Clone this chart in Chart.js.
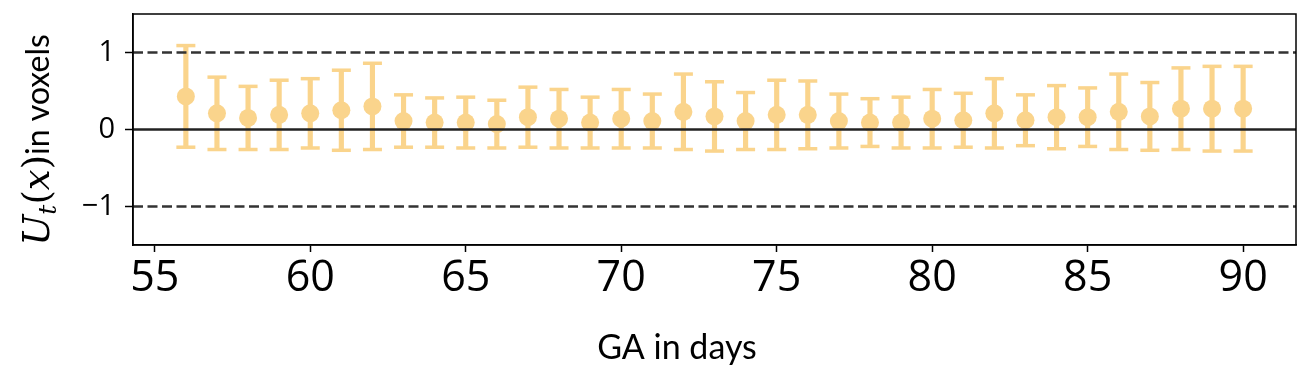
<!DOCTYPE html>
<html>
<head>
<meta charset="utf-8">
<script src="https://cdn.jsdelivr.net/npm/chart.js@4"></script>
<style>
  html, body { margin: 0; padding: 0; background: #fff; }
  #shift-chart { display: block; }
</style>
</head>
<body>
<canvas id="shift-chart" width="1309" height="392"></canvas>
<script>
// GA (days) and mean / std of the shift in voxels
const days = [56, 57, 58, 59, 60, 61, 62, 63, 64, 65, 66, 67, 68, 69, 70, 71, 72, 73,
              74, 75, 76, 77, 78, 79, 80, 81, 82, 83, 84, 85, 86, 87, 88, 89, 90];
const meanShift = [0.43, 0.21, 0.15, 0.19, 0.21, 0.25, 0.30, 0.11, 0.09, 0.09, 0.07, 0.16,
                   0.14, 0.09, 0.14, 0.11, 0.23, 0.17, 0.11, 0.19, 0.19, 0.11, 0.09, 0.09,
                   0.14, 0.12, 0.21, 0.12, 0.16, 0.16, 0.23, 0.17, 0.27, 0.27, 0.27];
const stdShift = [0.66, 0.47, 0.41, 0.45, 0.45, 0.52, 0.56, 0.34, 0.32, 0.33, 0.31, 0.39,
                  0.38, 0.33, 0.38, 0.35, 0.49, 0.45, 0.37, 0.45, 0.44, 0.35, 0.31, 0.33,
                  0.38, 0.35, 0.45, 0.33, 0.41, 0.38, 0.49, 0.44, 0.53, 0.55, 0.55];

const xTicks = [55, 60, 65, 70, 75, 80, 85, 90];
const yTicks = [-1, 0, 1];
const xRange = [54.3, 91.7];
const yRange = [-1.5, 1.5];
const dashedLevels = [-1, 1];
const xTitle = 'GA in days';

const ORANGE = '#FAD48C';

// error bar pieces
const barData = days.map((d, i) => ({ x: d, y: [meanShift[i] - stdShift[i], meanShift[i] + stdShift[i]] }));
const capTop = days.map((d, i) => ({ x: d, y: meanShift[i] + stdShift[i] }));
const capBottom = days.map((d, i) => ({ x: d, y: meanShift[i] - stdShift[i] }));
const means = days.map((d, i) => ({ x: d, y: meanShift[i] }));

function levelLine(level, dashed) {
    return {
        type: 'line',
        data: [{ x: xRange[0], y: level }, { x: xRange[1], y: level }],
        borderColor: dashed ? '#333333' : '#222222',
        borderWidth: 2.5,
        borderDash: dashed ? [10, 4.5] : [],
        pointRadius: 0,
        order: 0
    };
}

// frame + titles drawn on top
const decorations = {
    id: 'decorations',
    afterDraw(chart) {
        const ctx = chart.ctx;
        const a = chart.chartArea;
        ctx.save();
        ctx.strokeStyle = '#000';
        ctx.lineWidth = 1.5;
        ctx.strokeRect(a.left, a.top, a.right - a.left, a.bottom - a.top);

        // x title
        ctx.fillStyle = '#000';
        ctx.font = '34px Lato';
        ctx.textAlign = 'center';
        ctx.textBaseline = 'alphabetic';
        ctx.fillText(xTitle, 677, 359);

        // y title: U_t(x) in voxels, rotated
        const parts = [
            { t: 'U', font: 'italic 37px "DejaVu Serif"', dy: 0 },
            { t: 't', font: 'italic 25px "DejaVu Serif"', dy: 7 },
            { t: '(', font: '37px "DejaVu Serif"', dy: 0 },
            { t: 'x', font: 'italic 37px "DejaVu Serif"', dy: 0 },
            { t: ')', font: '37px "DejaVu Serif"', dy: 0 },
            { t: 'in voxels', font: '32px Lato', dy: 0 }
        ];
        let total = 0;
        parts.forEach(p => { ctx.font = p.font; p.w = ctx.measureText(p.t).width; total += p.w; });
        ctx.translate(49, 140);
        ctx.rotate(-Math.PI / 2);
        ctx.textAlign = 'left';
        let pos = -total / 2;
        parts.forEach(p => {
            ctx.font = p.font;
            ctx.fillText(p.t, pos, p.dy);
            pos += p.w;
        });
        ctx.restore();
    }
};

const ctx = document.getElementById('shift-chart').getContext('2d');

new Chart(ctx, {
    type: 'scatter',
    data: {
        datasets: [
            levelLine(0, false),
            levelLine(dashedLevels[0], true),
            levelLine(dashedLevels[1], true),
            {
                type: 'scatter',
                data: means,
                pointRadius: 9,
                pointBackgroundColor: ORANGE,
                pointBorderWidth: 0,
                order: 1
            },
            {
                type: 'scatter',
                data: capTop,
                pointStyle: 'line',
                pointRadius: 9.5,
                pointBorderWidth: 3.5,
                pointBorderColor: ORANGE,
                order: 2
            },
            {
                type: 'scatter',
                data: capBottom,
                pointStyle: 'line',
                pointRadius: 9.5,
                pointBorderWidth: 3.5,
                pointBorderColor: ORANGE,
                order: 2
            },
            {
                type: 'bar',
                data: barData,
                backgroundColor: ORANGE,
                borderWidth: 0,
                barThickness: 4.5,
                order: 3
            }
        ]
    },
    options: {
        responsive: false,
        animation: false,
        devicePixelRatio: 1,
        layout: { padding: { left: 0, right: 13, top: 14, bottom: 0 } },
        plugins: {
            legend: { display: false },
            tooltip: { enabled: false }
        },
        scales: {
            x: {
                type: 'linear',
                min: xRange[0],
                max: xRange[1],
                offset: false,
                afterBuildTicks: scale => { scale.ticks = xTicks.map(v => ({ value: v })); },
                afterFit: scale => {
                    scale.height = 147;
                    scale.paddingLeft = 0;
                    scale.paddingRight = 0;
                },
                grid: { offset: false, drawOnChartArea: false, drawTicks: true, tickLength: 7, tickColor: '#000', tickWidth: 1.5 },
                border: { display: true, color: '#000', width: 1.5 },
                ticks: {
                    color: '#000',
                    font: { family: 'Open Sans', size: 43 },
                    padding: 1,
                    maxRotation: 0,
                    autoSkip: false
                }
            },
            y: {
                type: 'linear',
                min: yRange[0],
                max: yRange[1],
                afterBuildTicks: scale => { scale.ticks = yTicks.map(v => ({ value: v })); },
                afterFit: scale => {
                    scale.width = 133;
                    scale.paddingTop = 0;
                    scale.paddingBottom = 0;
                },
                grid: { offset: false, drawOnChartArea: false, drawTicks: true, tickLength: 8, tickColor: '#000', tickWidth: 1.5 },
                border: { display: true, color: '#000', width: 1.5 },
                ticks: {
                    color: '#000',
                    font: { family: 'Open Sans', size: 29 },
                    padding: 10,
                    callback: v => (v < 0 ? '\u2212' + Math.abs(v) : String(v))
                }
            }
        }
    },
    plugins: [decorations]
});
</script>
</body>
</html>
